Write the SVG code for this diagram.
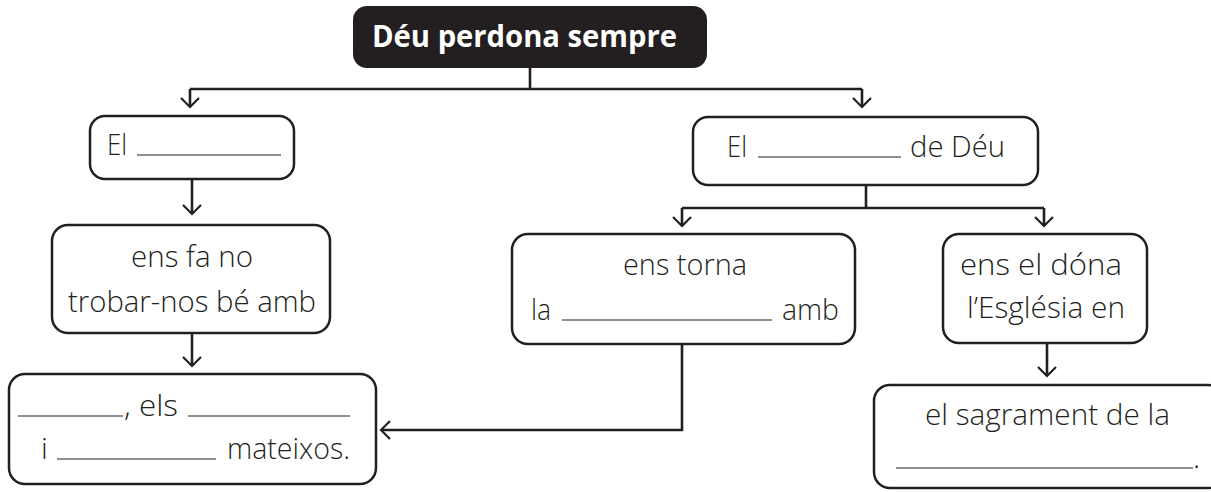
<svg xmlns="http://www.w3.org/2000/svg" width="1211" height="492" viewBox="0 0 1211 492">
<defs>
<marker id="arr" markerUnits="userSpaceOnUse" markerWidth="24" markerHeight="24" viewBox="-12 -12 24 24" refX="0" refY="0" orient="auto" overflow="visible">
<path d="M-9,-9 L0,0 L-9,9" fill="none" stroke="#231f20" stroke-width="2.2"/>
</marker>
<style>
.box{fill:#fff;stroke:#231f20;stroke-width:2.5}
.t{font-family:"Open Sans","Liberation Sans",sans-serif;font-size:30px;font-weight:300;fill:#231f20}
.ul{stroke:#231f20;stroke-width:1.2}
.c{fill:none;stroke:#231f20;stroke-width:2.6}
</style>
</defs>
<rect width="1211" height="492" fill="#fff"/>
<g id="connectors">
<path class="c" d="M530,68 V89"/>
<path class="c" d="M190,89 H862"/>
<path class="c" d="M190,89 V107" marker-end="url(#arr)"/>
<path class="c" d="M862,89 V107" marker-end="url(#arr)"/>
<path class="c" d="M192,179 V214" marker-end="url(#arr)"/>
<path class="c" d="M192,333 V366" marker-end="url(#arr)"/>
<path class="c" d="M866,185 V208"/>
<path class="c" d="M682,208 H1044"/>
<path class="c" d="M682,208 V226" marker-end="url(#arr)"/>
<path class="c" d="M1044,208 V226" marker-end="url(#arr)"/>
<path class="c" d="M1047,343 V376" marker-end="url(#arr)"/>
<path class="c" stroke-width="3" d="M682,344 V430 H381" marker-end="url(#arr)"/>
</g>
<g id="n-top">
<rect x="353" y="6" width="354" height="62" rx="14" fill="#231f20"/>
<text class="t" x="372" y="47" font-weight="700" style="fill:#fff;font-weight:700" textLength="305" lengthAdjust="spacingAndGlyphs">Déu perdona sempre</text>
</g>
<g id="n-el-left">
<rect class="box" x="90" y="116" width="204" height="63" rx="15"/>
<text class="t" x="107" y="155" textLength="20" lengthAdjust="spacingAndGlyphs">El</text>
<line class="ul" x1="137" y1="155" x2="281" y2="155"/>
</g>
<g id="n-ens-fa">
<rect class="box" x="52" y="225" width="278" height="108" rx="16"/>
<text class="t" x="131" y="267" textLength="122" lengthAdjust="spacingAndGlyphs">ens fa no</text>
<text class="t" x="68" y="312" textLength="248" lengthAdjust="spacingAndGlyphs">trobar-nos bé amb</text>
</g>
<g id="n-mateixos">
<rect class="box" x="9" y="374" width="367" height="110" rx="16"/>
<line class="ul" x1="18" y1="416" x2="123" y2="416"/>
<text class="t" x="124" y="416" textLength="54" lengthAdjust="spacingAndGlyphs">, els</text>
<line class="ul" x1="188" y1="416" x2="350" y2="416"/>
<text class="t" x="41" y="459">i</text>
<line class="ul" x1="57" y1="459" x2="216" y2="459"/>
<text class="t" x="227" y="459" textLength="123" lengthAdjust="spacingAndGlyphs">mateixos.</text>
</g>
<g id="n-el-right">
<rect class="box" x="693" y="117" width="345" height="68" rx="15"/>
<text class="t" x="727" y="157" textLength="20" lengthAdjust="spacingAndGlyphs">El</text>
<line class="ul" x1="758" y1="157" x2="901" y2="157"/>
<text class="t" x="910" y="157" textLength="95" lengthAdjust="spacingAndGlyphs">de Déu</text>
</g>
<g id="n-torna">
<rect class="box" x="512" y="234" width="343" height="110" rx="16"/>
<text class="t" x="623" y="275" textLength="124" lengthAdjust="spacingAndGlyphs">ens torna</text>
<text class="t" x="531" y="320" textLength="20" lengthAdjust="spacingAndGlyphs">la</text>
<line class="ul" x1="562" y1="320" x2="772" y2="320"/>
<text class="t" x="782" y="320" textLength="57" lengthAdjust="spacingAndGlyphs">amb</text>
</g>
<g id="n-dona">
<rect class="box" x="943" y="234" width="204" height="109" rx="16"/>
<text class="t" x="960" y="275" textLength="162" lengthAdjust="spacingAndGlyphs">ens el dóna</text>
<text class="t" x="967" y="318" textLength="158" lengthAdjust="spacingAndGlyphs">l’Església en</text>
</g>
<g id="n-sagrament">
<rect class="box" x="874" y="385" width="350" height="103" rx="16"/>
<text class="t" x="925" y="425" textLength="245" lengthAdjust="spacingAndGlyphs">el sagrament de la</text>
<line class="ul" x1="896" y1="468" x2="1193" y2="468"/>
<text class="t" x="1193" y="468">.</text>
</g>
</svg>
